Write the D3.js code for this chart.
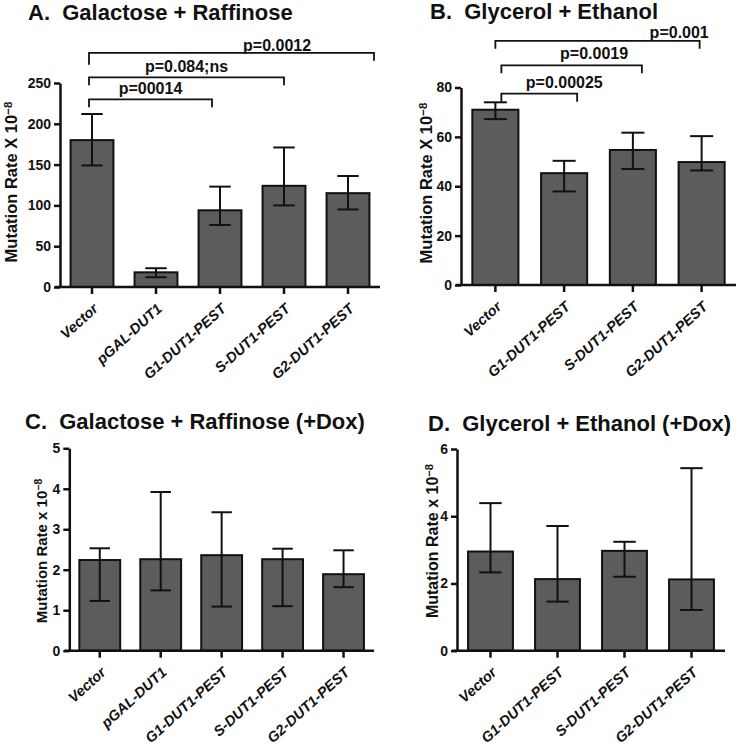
<!DOCTYPE html>
<html>
<head>
<meta charset="utf-8">
<script src="https://cdn.jsdelivr.net/npm/d3@7"></script>
<style>
  html, body { margin: 0; padding: 0; background: #fff; }
  svg { display: block; }
  text { font-family: "Liberation Sans", Arial, Helvetica, sans-serif; fill: #111; }
</style>
</head>
<body>
<svg id="chart" width="746" height="748"></svg>
<script>
// ---------- DATA ----------
const catsAC = ["Vector", "pGAL-DUT1", "G1-DUT1-PEST", "S-DUT1-PEST", "G2-DUT1-PEST"];
const catsBD = ["Vector", "G1-DUT1-PEST", "S-DUT1-PEST", "G2-DUT1-PEST"];

const valsA = [180, 18, 94, 124, 115];
const hiA   = [212, 23, 123, 171, 136];
const loA   = [149, 12, 76, 100, 95];
const ticksA = [0, 50, 100, 150, 200, 250];

const valsB = [71, 45.3, 54.7, 49.8];
const hiB   = [74, 50.3, 61.7, 60.3];
const loB   = [67.2, 37.9, 47, 46.4];
const ticksB = [0, 20, 40, 60, 80];

const valsC = [2.24, 2.26, 2.36, 2.26, 1.89];
const hiC   = [2.53, 3.92, 3.42, 2.52, 2.48];
const loC   = [1.23, 1.49, 1.09, 1.10, 1.57];
const ticksC = [0, 1, 2, 3, 4, 5];

const valsD = [2.95, 2.13, 2.97, 2.12];
const hiD   = [4.39, 3.71, 3.24, 5.43];
const loD   = [2.33, 1.46, 2.20, 1.21];
const ticksD = [0, 2, 4, 6];

const titles = ["A.  Galactose + Raffinose", "B.  Glycerol + Ethanol",
                "C.  Galactose + Raffinose (+Dox)", "D.  Glycerol + Ethanol (+Dox)"];
const yLabels = ["Mutation Rate X 10", "Mutation Rate X 10", "Mutation Rate x 10", "Mutation Rate x 10"];
const yLabelSup = "\u22128";

// significance annotations: [from category, to category, label, level (data units)]
const sigA = [["Vector", "G1-DUT1-PEST", "p=00014", 230],
              ["Vector", "S-DUT1-PEST", "p=0.084;ns", 257],
              ["Vector", "G2-DUT1-PEST", "p=0.0012", 287]];
const sigB = [["Vector", "G1-DUT1-PEST", "p=0.00025", 77.5],
              ["Vector", "S-DUT1-PEST", "p=0.0019", 89],
              ["Vector", "G2-DUT1-PEST", "p=0.001", 98.9]];

// ---------- DRAW ----------
const svg = d3.select("#chart");
const FONT = '"Liberation Sans", Arial, Helvetica, sans-serif';
const BAR_FILL = "#5c5c5c";

function panel(cfg) {
  const g = svg.append("g");
  const x = d3.scaleBand().domain(cfg.cats).range(cfg.xr).paddingInner(0.33).paddingOuter(0.165);
  const y = d3.scaleLinear().domain([0, cfg.ticks[cfg.ticks.length - 1]]).range(cfg.yr);
  const bw = x.bandwidth();

  // title
  g.append("text").attr("x", cfg.titleX).attr("y", cfg.titleY)
    .attr("font-size", 22).attr("font-weight", "bold")
    .attr("xml:space", "preserve").style("white-space", "pre")
    .text(cfg.title);

  // bars
  g.selectAll("rect.bar").data(cfg.vals).join("rect")
    .attr("class", "bar")
    .attr("x", (d, i) => x(cfg.cats[i]))
    .attr("y", d => y(d))
    .attr("width", bw)
    .attr("height", d => y(0) - y(d))
    .attr("fill", BAR_FILL).attr("stroke", "#111").attr("stroke-width", 2);

  // error bars
  const eb = g.selectAll("g.eb").data(cfg.vals).join("g").attr("class", "eb")
    .attr("stroke", "#111").attr("stroke-width", 2);
  eb.append("line")
    .attr("x1", (d, i) => x(cfg.cats[i]) + bw / 2).attr("x2", (d, i) => x(cfg.cats[i]) + bw / 2)
    .attr("y1", (d, i) => y(cfg.hi[i])).attr("y2", (d, i) => y(cfg.lo[i]));
  eb.append("line")
    .attr("x1", (d, i) => x(cfg.cats[i]) + bw / 4).attr("x2", (d, i) => x(cfg.cats[i]) + bw * 3 / 4)
    .attr("y1", (d, i) => y(cfg.hi[i])).attr("y2", (d, i) => y(cfg.hi[i]));
  eb.append("line")
    .attr("x1", (d, i) => x(cfg.cats[i]) + bw / 4).attr("x2", (d, i) => x(cfg.cats[i]) + bw * 3 / 4)
    .attr("y1", (d, i) => y(cfg.lo[i])).attr("y2", (d, i) => y(cfg.lo[i]));

  // y axis
  const ya = g.append("g").attr("transform", `translate(${cfg.xr[0]},0)`)
    .call(d3.axisLeft(y).tickValues(cfg.ticks).tickFormat(d3.format("d"))
      .tickSize(6).tickPadding(3).tickSizeOuter(0));
  ya.select(".domain").attr("stroke", "#111").attr("stroke-width", 2.5);
  ya.selectAll(".tick line").attr("stroke", "#111").attr("stroke-width", 2.5);
  ya.selectAll(".tick text").attr("font-family", FONT).attr("font-size", 14)
    .attr("font-weight", "bold").attr("fill", "#111");

  // x axis
  const xa = g.append("g").attr("transform", `translate(0,${y(0)})`)
    .call(d3.axisBottom(x).tickSize(7).tickSizeOuter(0).tickFormat(""));
  xa.select(".domain").attr("stroke", "#111").attr("stroke-width", 2.5)
    .attr("d", `M${cfg.xr[0] - 5},0H${cfg.xr[1]}`);
  xa.selectAll(".tick line").attr("stroke", "#111").attr("stroke-width", 2.5);
  xa.selectAll(".tick text").remove();

  // rotated category labels
  g.selectAll("text.xl").data(cfg.cats).join("text").attr("class", "xl")
    .attr("transform", d => `translate(${x(d) + bw / 2 + 7},${y(0) + 23}) rotate(-42)`)
    .attr("text-anchor", "end")
    .attr("font-size", cfg.xlSize).attr("font-weight", "bold").attr("font-style", "italic")
    .text(d => d);

  // y label
  const yl = g.append("text")
    .attr("transform", `translate(${cfg.ylX},${cfg.ylY}) rotate(-90)`)
    .attr("text-anchor", "middle").attr("font-size", cfg.ylSize).attr("font-weight", "bold");
  yl.append("tspan").text(cfg.ylabel);
  yl.append("tspan").attr("dy", "-0.45em").attr("font-size", cfg.ylSize * 0.7).text(yLabelSup);

  // significance brackets
  if (cfg.sig) {
    cfg.sig.forEach((s, k) => {
      const nud = cfg.sigNudge[k];
      const x1 = x(s[0]) + bw / 2 + nud[0];
      const x2 = x(s[1]) + bw / 2 + nud[1];
      const yy = y(s[3]);
      g.append("path")
        .attr("d", `M${x1},${yy + nud[2]}V${yy}H${x2}V${yy + 8}`)
        .attr("fill", "none").attr("stroke", "#111").attr("stroke-width", 1.8);
      g.append("text").attr("x", x1 + (x2 - x1) * nud[3]).attr("y", yy + nud[4])
        .attr("text-anchor", "middle").attr("font-size", 16).attr("font-weight", "bold")
        .text(s[2]);
    });
  }
}

panel({ cats: catsAC, vals: valsA, hi: hiA, lo: loA, ticks: ticksA,
        xr: [60, 380], yr: [287, 83], title: titles[0], titleX: 28, titleY: 20,
        ylabel: yLabels[0], ylX: 17, ylY: 182, ylSize: 16.5, xlSize: 14.5,
        sig: sigA, sigNudge: [[-3, -8, 8, 0.5, -5], [-3, 0, 8, 0.5, -5], [-3, 26, 12, 0.66, -2]] });

panel({ cats: catsBD, vals: valsB, hi: hiB, lo: loB, ticks: ticksB,
        xr: [461, 736], yr: [285, 87.5], title: titles[1], titleX: 430, titleY: 19,
        ylabel: yLabels[1], ylX: 432, ylY: 183, ylSize: 16.5, xlSize: 14.5,
        sig: sigB, sigNudge: [[6, 13, 8, 0.83, -6], [6, 9, 8, 0.66, -6], [0, -2, 8, 0.9, -3]] });

panel({ cats: catsAC, vals: valsC, hi: hiC, lo: loC, ticks: ticksC,
        xr: [69.3, 374], yr: [650.7, 448.3], title: titles[2], titleX: 25, titleY: 429,
        ylabel: yLabels[2], ylX: 47, ylY: 551, ylSize: 15, xlSize: 14.5 });

panel({ cats: catsBD, vals: valsD, hi: hiD, lo: loD, ticks: ticksD,
        xr: [457, 725], yr: [650.7, 449], title: titles[3], titleX: 428, titleY: 431,
        ylabel: yLabels[3], ylX: 438, ylY: 541, ylSize: 16, xlSize: 14.5 });
</script>
</body>
</html>
